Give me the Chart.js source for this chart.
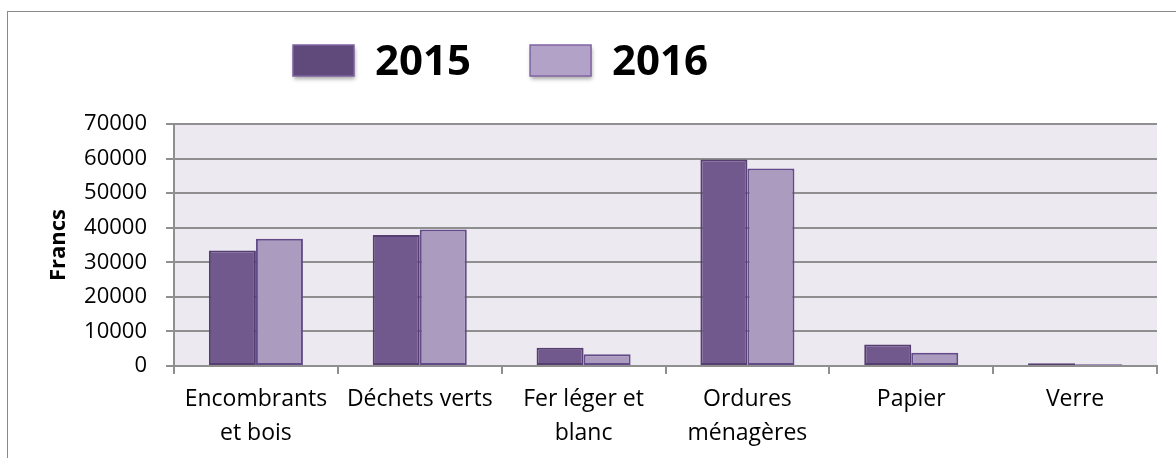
<!DOCTYPE html>
<html>
<head>
<meta charset="utf-8">
<script src="https://cdn.jsdelivr.net/npm/chart.js@4.4.1/dist/chart.umd.min.js"></script>
<style>
    body { margin: 0; background: #fff; }
    #wrap { position: relative; width: 1176px; height: 458px; }
    #frame {
        position: absolute; left: 7px; top: 11px; right: 0; bottom: 0;
        border-left: 1px solid #8a8a8a; border-top: 1px solid #8a8a8a;
    }
    canvas { position: absolute; left: 0; top: 0; }
</style>
</head>
<body>
<div id="wrap">
    <div id="frame"></div>
    <canvas id="chart" width="1176" height="458"></canvas>
</div>
<script>
// ===== Data =====
const categories = [
    ["Encombrants", "et bois"],
    ["Déchets verts"],
    ["Fer léger et", "blanc"],
    ["Ordures", "ménagères"],
    ["Papier"],
    ["Verre"]
];
const years = ["2015", "2016"];
const values2015 = [33400, 37900, 5300, 59700, 6200, 800];
const values2016 = [36800, 39500, 3400, 57100, 3800, 500];
const yTicks = [0, 10000, 20000, 30000, 40000, 50000, 60000, 70000];

// ===== Plot background =====
const plotBackground = {
    id: "plotBackground",
    beforeDraw(chart) {
        const { ctx, chartArea: a } = chart;
        ctx.save();
        ctx.fillStyle = "#ECE9F0";
        ctx.fillRect(a.left, a.top, a.right - a.left, a.bottom - a.top);
        ctx.restore();
    }
};

// ===== Legend drawn at the top, left of center like the original =====
const topLegend = {
    id: "topLegend",
    afterDraw(chart, args, opts) {
        const ctx = chart.ctx;
        ctx.save();
        ctx.font = "bold 42px 'Open Sans'";
        ctx.textBaseline = "middle";
        let x = opts.x;
        chart.data.datasets.forEach((ds, i) => {
            ctx.shadowColor = "rgba(0,0,0,0.35)";
            ctx.shadowBlur = 4;
            ctx.shadowOffsetX = 1;
            ctx.shadowOffsetY = 3;
            ctx.fillStyle = opts.colors[i];
            ctx.fillRect(x, opts.y, opts.boxW, opts.boxH);
            ctx.shadowColor = "transparent";
            ctx.strokeStyle = opts.borders[i];
            ctx.lineWidth = 1.5;
            ctx.strokeRect(x, opts.y, opts.boxW, opts.boxH);
            ctx.fillStyle = "#000";
            ctx.fillText(ds.label, x + opts.boxW + 21, opts.y + opts.boxH / 2 + 3);
            x += opts.boxW + 21 + ctx.measureText(ds.label).width + 59;
        });
        ctx.restore();
    }
};

const axisGrey = "#8f8f8f";

new Chart(document.getElementById("chart"), {
    type: "bar",
    data: {
        labels: categories,
        datasets: [
            {
                label: years[0],
                data: values2015,
                backgroundColor: "#71598E",
                borderColor: "#563F70",
                borderWidth: 2,
                borderSkipped: false
            },
            {
                label: years[1],
                data: values2016,
                backgroundColor: "#AA9BBF",
                borderColor: "#634A88",
                borderWidth: 2,
                borderSkipped: false
            }
        ]
    },
    options: {
        responsive: false,
        animation: false,
        devicePixelRatio: 1,
        layout: { padding: { left: 46, right: 19, top: 124, bottom: 0 } },
        datasets: { bar: { categoryPercentage: 0.574, barPercentage: 1 } },
        plugins: {
            legend: { display: false },
            tooltip: { enabled: false },
            topLegend: {
                x: 293, y: 45, boxW: 61, boxH: 31,
                colors: ["#604A7B", "#B3A2C7"],
                borders: ["#7E63A0", "#8064A2"]
            }
        },
        scales: {
            x: {
                grid: {
                    display: true,
                    offset: true,
                    drawOnChartArea: false,
                    drawTicks: true,
                    tickLength: 8,
                    color: axisGrey,
                    lineWidth: 2
                },
                border: { display: true, color: axisGrey, width: 2 },
                ticks: {
                    color: "#000",
                    padding: 9,
                    maxRotation: 0,
                    autoSkip: false,
                    font: { family: "'Open Sans'", size: 23, lineHeight: 1.45 }
                },
                afterFit(scale) { scale.height = 92; }
            },
            y: {
                min: 0,
                max: 70000,
                afterBuildTicks(scale) { scale.ticks = yTicks.map(v => ({ value: v })); },
                grid: { color: axisGrey, lineWidth: 2, tickLength: 8, drawTicks: true },
                border: { display: true, color: axisGrey, width: 2 },
                ticks: {
                    color: "#000",
                    padding: 19,
                    callback: v => String(v),
                    font: { family: "'Open Sans'", size: 22 }
                },
                title: {
                    display: true,
                    text: "Francs",
                    color: "#000",
                    padding: { top: 0, bottom: 0 },
                    font: { family: "'Open Sans'", size: 22, weight: "bold", lineHeight: 1.2 }
                },
                afterFit(scale) { scale.width = 128; }
            }
        }
    },
    plugins: [plotBackground, topLegend]
});
</script>
</body>
</html>
